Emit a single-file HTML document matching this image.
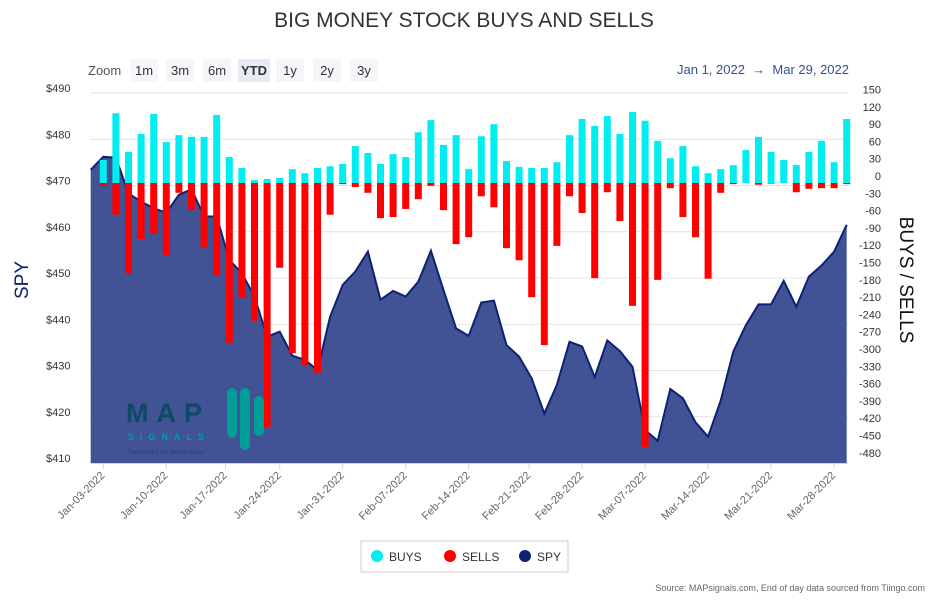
<!DOCTYPE html>
<html><head><meta charset="utf-8"><style>
body{margin:0;background:#fff;width:945px;height:596px;overflow:hidden;font-family:"Liberation Sans",sans-serif}
svg text{font-family:"Liberation Sans",sans-serif}
</style></head><body>
<svg id="chart" width="945" height="596" viewBox="0 0 945 596">
<text x="464" y="27" text-anchor="middle" font-size="21" fill="#333">BIG MONEY STOCK BUYS AND SELLS</text>
<g font-size="13" fill="#333">
<text x="88" y="75" fill="#555">Zoom</text>
<rect x="130" y="59" width="28" height="23" fill="#f4f6f9"/><text x="144" y="75" text-anchor="middle">1m</text>
<rect x="166" y="59" width="28" height="23" fill="#f4f6f9"/><text x="180" y="75" text-anchor="middle">3m</text>
<rect x="203" y="59" width="28" height="23" fill="#f4f6f9"/><text x="217" y="75" text-anchor="middle">6m</text>
<rect x="238" y="59" width="32" height="23" fill="#e6ebf5"/><text x="254" y="75" text-anchor="middle" font-weight="bold">YTD</text>
<rect x="276" y="59" width="28" height="23" fill="#f4f6f9"/><text x="290" y="75" text-anchor="middle">1y</text>
<rect x="313" y="59" width="28" height="23" fill="#f4f6f9"/><text x="327" y="75" text-anchor="middle">2y</text>
<rect x="350" y="59" width="28" height="23" fill="#f4f6f9"/><text x="364" y="75" text-anchor="middle">3y</text>
</g>
<text x="849" y="74" text-anchor="end" font-size="13" fill="#34508c">Jan 1, 2022 &#160;→ &#160;Mar 29, 2022</text>
<text transform="translate(28,280) rotate(-90)" text-anchor="middle" font-size="19" fill="#0d2273">SPY</text>
<text transform="translate(900,280) rotate(90)" text-anchor="middle" font-size="19" fill="#111">BUYS / SELLS</text>
<g id="grid"></g><g id="area"></g><g id="bars"></g><g id="logo">
<text x="126" y="422" font-size="27" font-weight="bold" fill="#0e4a66" letter-spacing="8">MAP</text>
<text x="128" y="440" font-size="9" font-weight="bold" fill="#009e96" letter-spacing="6">SIGNALS</text>
<text x="128" y="454" font-size="6" fill="#0e4a66">Tomorrow's top stocks today</text>
<rect x="227" y="388" width="10" height="50" rx="5" fill="#009e96"/><rect x="240" y="388" width="10" height="62" rx="5" fill="#009e96"/><rect x="254" y="396" width="10" height="40" rx="5" fill="#009e96"/>
</g><g id="axes"></g>
<g>
<rect x="361" y="541" width="207" height="31" fill="#fff" stroke="#ccc"/>
<g><circle cx="377" cy="556" r="6" fill="#00eef0"/><text x="389" y="561" font-size="12" fill="#333">BUYS</text></g>
<g><circle cx="450" cy="556" r="6" fill="#ff0000"/><text x="462" y="561" font-size="12" fill="#333">SELLS</text></g>
<g><circle cx="525" cy="556" r="6" fill="#0d2273"/><text x="537" y="561" font-size="12" fill="#333">SPY</text></g>
</g>
<text x="925" y="591" text-anchor="end" font-size="9" fill="#666">Source: MAPsignals.com, End of day data sourced from Tiingo.com</text>
</svg>
<script>
const buys=[40,121,54,85,120,71,83,80,80,118,45,26,5,7,9,24,17,26,29,33,64,52,33,50,45,88,109,66,83,24,81,102,38,28,26,26,36,83,111,99,116,85,123,108,73,43,64,29,17,24,31,57,80,54,40,31,54,73,36,111];
const sells=[-5,-55,-157,-97,-88,-125,-17,-46,-112,-160,-277,-198,-239,-423,-147,-295,-317,-329,-55,-2,-7,-17,-61,-59,-45,-28,-5,-47,-106,-94,-23,-42,-113,-134,-198,-281,-109,-23,-52,-165,-16,-66,-213,-458,-168,-9,-59,-94,-166,-17,-2,0,-3,-1,0,-16,-10,-9,-9,-2];
const spy=[473.4,476.2,476.0,468.3,466.5,465.1,464.1,468.0,469.2,463.3,463.3,453.9,451.0,446.0,437.3,438.4,433.2,432.3,430.1,441.6,448.5,451.4,455.7,445.3,447.2,446.0,449.2,455.9,447.4,439.1,437.5,444.7,445.1,435.5,433.0,428.3,420.7,426.9,436.2,435.2,428.6,436.5,434.2,430.8,417.1,414.8,426.0,424.0,418.8,415.7,423.5,434.1,439.8,444.3,444.3,449.4,443.8,450.3,452.7,455.7,461.5];
const leftTicks=[490,480,470,460,450,440,430,420,410];
const rightTicks=[150,120,90,60,30,0,-30,-60,-90,-120,-150,-180,-210,-240,-270,-300,-330,-360,-390,-420,-450,-480];
const xLabels=["Jan-03-2022","Jan-10-2022","Jan-17-2022","Jan-24-2022","Jan-31-2022","Feb-07-2022","Feb-14-2022","Feb-21-2022","Feb-28-2022","Mar-07-2022","Mar-14-2022","Mar-21-2022","Mar-28-2022"];
const xLabelIdx=[0,5,9.7,14,19,24,29,33.8,38,43,48,53,58];
const NS="http://www.w3.org/2000/svg";
const X=i=>103.3+12.6*i;
const YL=v=>93+(490-v)*370/80;
const YR=v=>183-v*17.3/30;
function mk(tag,attrs,parent){const e=document.createElementNS(NS,tag);for(const k in attrs)e.setAttribute(k,attrs[k]);parent.appendChild(e);return e;}
const grid=document.getElementById('grid'),area=document.getElementById('area'),bars=document.getElementById('bars'),axes=document.getElementById('axes');
leftTicks.forEach(v=>{
  const l=mk('line',{x1:90,x2:848,y1:YL(v),y2:YL(v),stroke:'#e3e3e3','stroke-width':1},grid);
  
  
  const t=mk('text',{x:46,y:YL(v)-1,'font-size':11,fill:'#333'},axes);t.textContent='$'+v;
  
  
});
rightTicks.forEach(v=>{
  const t=mk('text',{x:881,y:YR(v)-3,'font-size':11,fill:'#333','text-anchor':'end'},axes);t.textContent=v;
  
  
});
let d='M'+X(-1)+','+YL(spy[0]);
spy.forEach((v,k)=>{d+=' L'+X(k-1)+','+YL(v);});
const fill=mk('path',{d:d+' L'+X(spy.length-2)+',463 L'+X(-1)+',463 Z',fill:'#415394'},area);


const line=mk('path',{d:d,fill:'none',stroke:'#0d2273','stroke-width':2},area);


buys.forEach((v,i)=>{
  const b=mk('rect',{x:X(i)-3.5,y:YR(v),width:7,height:Math.max(0,YR(0)-YR(v)),fill:'#00eef0'},bars);
  
  
});
sells.forEach((v,i)=>{
  const b=mk('rect',{x:X(i)-3.5,y:YR(0),width:7,height:Math.max(0,YR(v)-YR(0)),fill:'#ff0000'},bars);
  
  
});
const ax=mk('line',{x1:90,x2:848,y1:463.5,y2:463.5,stroke:'#ccd6eb','stroke-width':1},axes);


xLabels.forEach((s,k)=>{
  const x=X(xLabelIdx[k]);
  const tk=mk('line',{x1:x,x2:x,y1:463,y2:469,stroke:'#ccd6eb'},axes);
  
  
  const t=mk('text',{transform:'translate('+(x+2)+',476) rotate(-45)','text-anchor':'end','font-size':11,fill:'#666'},axes);t.textContent=s;
  
  
});
</script>
</body></html>
